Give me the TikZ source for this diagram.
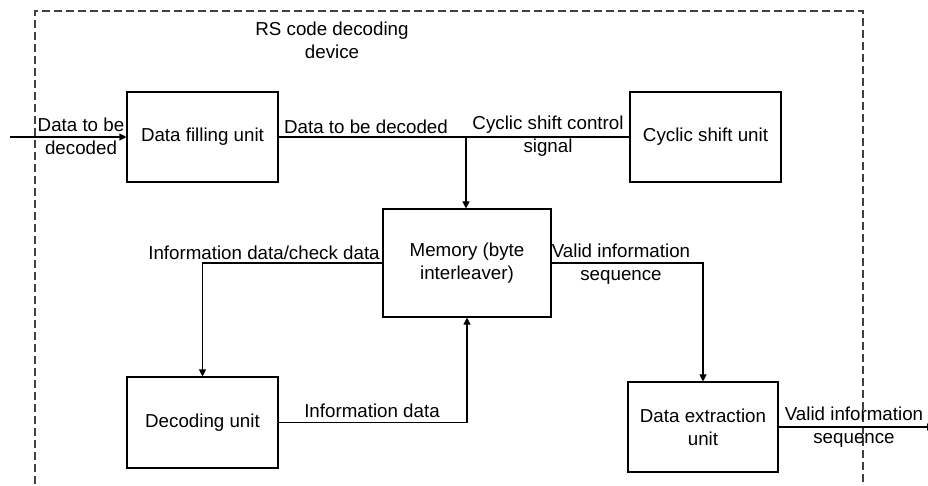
\documentclass[tikz,border=0pt]{standalone}
\usepackage{fontspec}
\setmainfont{Liberation Sans}
\usetikzlibrary{arrows.meta}
\begin{document}
\begin{tikzpicture}[x=1pt,y=-1pt,
  font=\fontsize{18.75}{23}\selectfont,
  unit/.style={draw, line width=1.1pt, minimum width=151pt, minimum height=90pt, align=center, inner sep=0pt},
  lbl/.style={align=center, inner sep=0pt},
  conn/.style={line width=1.1pt},
  arr/.style={conn, -{Triangle[length=7pt,width=7pt]}},
  outer/.style={draw=black!75, line width=1.1pt, dash pattern=on 8pt off 4pt}
]
\useasboundingbox (0,0) rectangle (928,486);
\draw[outer] (35,520) -- (35,11) -- (863,11) -- (863,520);
\node[lbl] (title) at (332,40) {RS code decoding\\device};

\node[unit] (fill) at (202.5,137) {Data filling unit};
\node[unit] (cyc) at (705.5,137) {Cyclic shift unit};
\node[unit, minimum width=168pt, minimum height=108pt] (mem) at (467,263) {Memory (byte\\interleaver)};
\node[unit, minimum height=91pt] (dec) at (202.5,422.5) {Decoding unit};
\node[unit, minimum width=150pt] (ext) at (703,427) {Data extraction\\unit};

\coordinate (in) at (10,137);
\coordinate (j1) at (466,137);
\coordinate (out) at (934,427);

\draw[arr] (in) -- (fill.west);
\draw[conn] (fill.east) -- (cyc.west);
\draw[arr] (j1) -- (j1 |- mem.north);
\draw[arr] (mem.west) -| (dec.north);
\draw[arr] (dec.east) -| (mem.south);
\draw[arr] (mem.east) -| (ext.north);
\draw[arr] (ext.east) -- (out);

\node[lbl] (l1) at (81,136) {Data to be\\decoded};
\node[lbl] (l2) at (366,127) {Data to be decoded};
\node[lbl] (l3) at (548,136) {Cyclic shift control\\signal};
\node[lbl] (l4) at (264,253) {Information data/check data};
\node[lbl] (l5) at (372,411) {Information data};
\node[lbl] (l6) at (621,264) {Valid information\\sequence};
\node[lbl] (l7) at (854,427) {Valid information\\sequence};
\end{tikzpicture}
\end{document}
